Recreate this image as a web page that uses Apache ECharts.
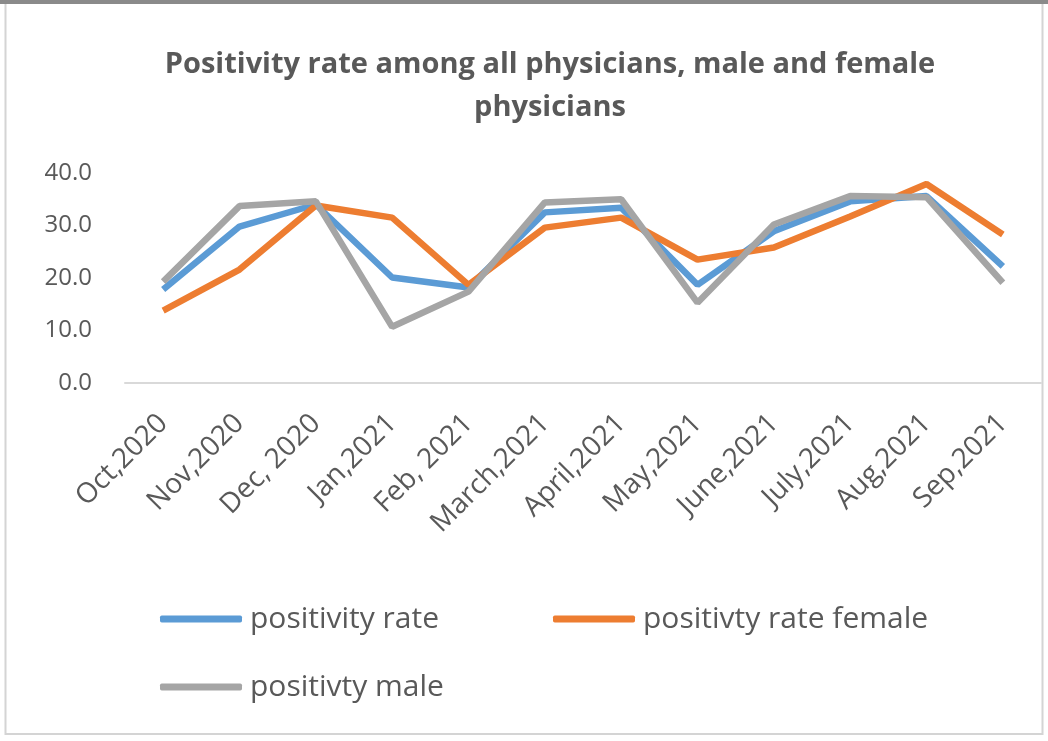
<!DOCTYPE html>
<html>
<head>
<meta charset="utf-8">
<script src="https://cdn.jsdelivr.net/npm/echarts@6/dist/echarts.min.js"></script>
<style>
  html, body { margin: 0; padding: 0; background: #fff; }
  #chart { width: 1048px; height: 741px; }
</style>
</head>
<body>
<div id="chart"></div>
<script>
// categories and values
var months = ["Oct,2020", "Nov,2020", "Dec, 2020", "Jan,2021", "Feb, 2021", "March,2021",
  "April,2021", "May,2021", "June,2021", "July,2021", "Aug,2021", "Sep,2021"];
var rateAll = [17.8, 29.8, 34.0, 20.1, 18.2, 32.5, 33.4, 18.7, 28.9, 34.6, 35.6, 22.2];
var rateFemale = [13.8, 21.6, 33.8, 31.5, 18.7, 29.6, 31.5, 23.5, 25.8, 31.7, 37.9, 28.3];
var rateMale = [19.3, 33.7, 34.6, 10.7, 17.4, 34.4, 35.0, 15.3, 30.2, 35.6, 35.4, 19.1];
var yTicks = [0, 10, 20, 30, 40];

var FONT = "Open Sans";
var TXT = "#595959";

var chart = echarts.init(document.getElementById("chart"));

function legendFor(name, left, top) {
  return {
    data: [name],
    left: left,
    top: top,
    icon: "roundRect",
    itemWidth: 82,
    itemHeight: 7,
    itemGap: 0,
    textStyle: { color: TXT, fontFamily: FONT, fontSize: 30, lineHeight: 30, padding: [0, 0, 0, 3] }
  };
}

var option = {
  backgroundColor: "#fff",
  animation: false,
  title: {
    text: "Positivity rate among all physicians, male and female\nphysicians",
    left: 545,
    top: 38,
    textAlign: "center",
    textStyle: {
      color: TXT, fontFamily: FONT, fontWeight: "bold", fontSize: 29, lineHeight: 43
    }
  },
  graphic: [
    { type: "rect", shape: { x: 5.5, y: 3, width: 1037, height: 731 },
      style: { fill: "none", stroke: "#d4d4d4", lineWidth: 2 } },
    { type: "rect", shape: { x: 0, y: 0, width: 1048, height: 4 },
      style: { fill: "#8a8a8a" } }
  ],
  legend: [
    legendFor("positivity rate", 155, 599),
    legendFor("positivty rate female", 548, 599),
    legendFor("positivty male", 155, 667)
  ],
  grid: { left: 125, right: 7, top: 173, bottom: 358 },
  xAxis: {
    type: "category",
    data: months,
    boundaryGap: true,
    axisLine: { lineStyle: { color: "#d9d9d9", width: 2 } },
    axisTick: { show: false },
    axisLabel: {
      rotate: 45, interval: 0, margin: 36,
      color: TXT, fontFamily: FONT, fontSize: 28
    }
  },
  yAxis: {
    type: "value",
    min: yTicks[0],
    max: yTicks[yTicks.length - 1],
    interval: 10,
    splitLine: { show: false },
    axisLine: { show: false },
    axisTick: { show: false },
    axisLabel: {
      margin: 33,
      color: TXT, fontFamily: FONT, fontSize: 24,
      formatter: function (v) { return v.toFixed(1); }
    }
  },
  series: [
    { name: "positivity rate", type: "line", data: rateAll, symbol: "none",
      lineStyle: { color: "#5B9BD5", width: 6.5 }, itemStyle: { color: "#5B9BD5" } },
    { name: "positivty rate female", type: "line", data: rateFemale, symbol: "none",
      lineStyle: { color: "#ED7D31", width: 6.5 }, itemStyle: { color: "#ED7D31" } },
    { name: "positivty male", type: "line", data: rateMale, symbol: "none",
      lineStyle: { color: "#A5A5A5", width: 6.5 }, itemStyle: { color: "#A5A5A5" } }
  ]
};

chart.setOption(option);
</script>
</body>
</html>
